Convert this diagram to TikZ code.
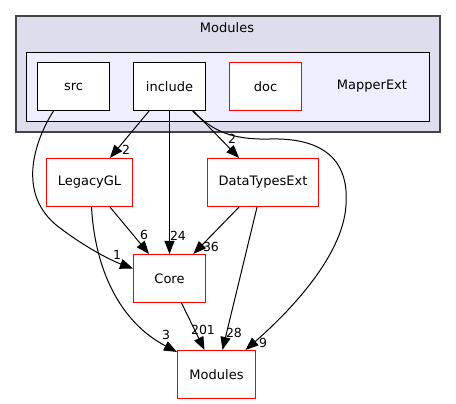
\documentclass[tikz,border=0pt]{standalone}
\usepackage{fontspec}
\setmainfont{DejaVu Sans}
\usetikzlibrary{arrows.meta,calc}
\definecolor{outerfill}{HTML}{DDDDEE}
\definecolor{innerfill}{HTML}{EEEEFF}
\definecolor{outerline}{HTML}{444444}
\definecolor{redline}{HTML}{FF0000}
\tikzset{
  dirbox/.style={draw=black,fill=white,line width=1pt,minimum height=48pt,inner sep=0pt,font=\fontsize{13}{15}\selectfont},
  reddir/.style={fill=white,draw=redline,line width=1.1pt,minimum height=48pt,inner sep=0pt,font=\fontsize{13}{15}\selectfont},
  dep/.style={draw=black,line width=1pt,-{Triangle[length=13pt,width=10pt]}},
  lbl/.style={font=\fontsize{12.5}{14}\selectfont,inner sep=0pt},
}
\begin{document}
\begin{tikzpicture}[x=1pt,y=-1pt]
\useasboundingbox (0,0) rectangle (456,404);
\fill[white] (0,0) rectangle (456,404);
% clusters
\draw[outerline,fill=outerfill,line width=2pt] (16,16) rectangle (440,132);
\node[lbl,font=\fontsize{13}{15}\selectfont] (outerlabel) at (227,28) {Modules};
\draw[black,fill=innerfill,line width=1pt] (26.5,52.5) rectangle (429.5,121.5);
\node[lbl,font=\fontsize{13}{15}\selectfont] (innerlabel) at (372,86) {MapperExt};
% nodes
\node[dirbox,minimum width=72pt] (src) at (73.5,86.5) {src};
\node[dirbox,minimum width=72pt] (include) at (169.5,86.5) {include};
\node[reddir,minimum width=72pt] (docdir) at (265.5,86.5) {doc};
\node[reddir,minimum width=86pt] (LegacyGL) at (89.5,182.5) {LegacyGL};
\node[reddir,minimum width=111pt] (DataTypesExt) at (263,182.5) {DataTypesExt};
\node[reddir,minimum width=72pt] (Core) at (169.5,278.5) {Core};
\node[reddir,minimum width=78pt] (Modules) at (216.5,374.5) {Modules};
% edges
\draw[dep] (include) -- (LegacyGL);
\node[lbl] (l1) at (126,150) {2};
\draw[dep] (include) -- (Core);
\node[lbl] (l2) at (178,236) {24};
\draw[dep] (include) -- (DataTypesExt);
\node[lbl] (l3) at (232,139) {2};
\draw[dep] ($(include.south)+(23,0)$) .. controls (212,130) and (230,140) .. (270,139)
  .. controls (310,138) and (350,150) .. (346,205)
  .. controls (343,260) and (280,320) .. ($(Modules.north)+(29,0)$);
\node[lbl] (l4) at (263,343) {9};
\draw[dep] ($(src.south)+(-20,0)$) .. controls (35,140) and (15,195) .. (60,228)
  .. controls (85,247) and (110,260) .. ($(Core.west)+(0,-10)$);
\node[lbl] (l5) at (117,255) {1};
\draw[dep] (LegacyGL) -- (Core);
\node[lbl] (l6) at (144,235) {6};
\draw[dep] ($(LegacyGL.south)+(2,0)$) .. controls (95,270) and (120,322) .. ($(Modules.north west)+(0,2)$);
\node[lbl] (l7) at (166,335) {3};
\draw[dep] (DataTypesExt) -- (Core);
\node[lbl] (l8) at (211,247) {36};
\draw[dep] (DataTypesExt) -- (Modules);
\node[lbl] (l9) at (234,333) {28};
\draw[dep] (Core) -- (Modules);
\node[lbl] (l10) at (203,330) {201};
\end{tikzpicture}
\end{document}
